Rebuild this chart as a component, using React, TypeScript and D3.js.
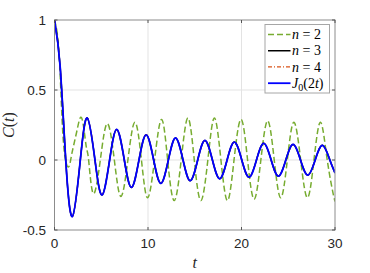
import React, { useEffect, useRef } from 'react';
import * as d3 from 'd3';

// axis ticks
const xTicks = [0, 10, 20, 30];
const yTicks = [-0.5, 0, 0.5, 1];
const yTickLabels = ['-0.5', '0', '0.5', '1'];

// J0(2t) (extrema and zero crossings)
const besselT = [0, 0.6, 1.202, 1.916, 2.76, 3.508, 4.327, 5.087, 5.896, 6.662, 7.466, 8.235, 9.036, 9.81,
  10.606, 11.38, 12.176, 12.95, 13.746, 14.52, 15.316, 16.09, 16.889, 17.67, 18.459, 19.24, 20.03, 20.81,
  21.6, 22.38, 23.17, 23.95, 24.74, 25.52, 26.31, 27.09, 27.88, 28.67, 29.45, 30];
const besselC = [1, 0.671, 0, -0.403, 0, 0.3, 0, -0.25, 0, 0.218, 0, -0.196, 0, 0.18,
  0, -0.167, 0, 0.157, 0, -0.148, 0, 0.14, 0, -0.134, 0, 0.128, 0, -0.123,
  0, 0.119, 0, -0.115, 0, 0.111, 0, -0.108, 0, 0.105, 0, -0.092];

// n = 2, green dashed
const n2T = [0, 0.5, 0.93, 1.48, 1.84, 2.37, 2.91, 3.37, 3.65, 4.15, 4.9, 5.65, 6.4, 7.1, 7.85, 8.6, 9.3, 9.95,
  10.7, 11.45, 12.1, 12.8, 13.55, 14.27, 14.95, 15.65, 16.4, 17.1, 17.8, 18.5, 19.2, 19.95, 20.65, 21.35,
  22.07, 22.8, 23.5, 24.2, 24.9, 25.6, 26.33, 27.05, 27.75, 28.45, 29.17, 29.9, 30];
const n2C = [1, 0.75, 0.15, -0.05, 0.04, 0.2, 0.3, 0.107, 0, -0.24, 0, 0.26, 0, -0.26, 0, 0.27, 0, -0.27,
  0, 0.29, 0, -0.29, 0, 0.3, 0, -0.29, 0, 0.3, 0, -0.29, 0, 0.29, 0, -0.28,
  0, 0.28, 0, -0.27, 0, 0.27, 0, -0.27, 0, 0.27, 0, -0.27, -0.268];

// n = 3 and n = 4 lie under the J0 curve
const n3T = besselT;
const n3C = besselC;
const n4T = besselT;
const n4C = besselC;

const legendNames = ['2', '3', '4', 'J'];

const App = () => {
  const svgRef = useRef(null);

  useEffect(() => {
    document.body.style.margin = '0';

    const W = 370;
    const H = 273;
    const margin = { top: 20, right: 35, bottom: 43, left: 54.5 };
    const width = W - margin.left - margin.right;
    const height = H - margin.top - margin.bottom;

    const svg = d3.select(svgRef.current);
    svg.selectAll('*').remove();
    svg.attr('width', W).attr('height', H);

    svg.append('rect').attr('width', W).attr('height', H).attr('fill', '#fff');

    const x = d3.scaleLinear().domain([0, 30]).range([0, width]);
    const y = d3.scaleLinear().domain([-0.5, 1]).range([height, 0]);

    const g = svg.append('g').attr('transform', `translate(${margin.left},${margin.top})`);

    // grid
    g.selectAll('.gx').data(xTicks.slice(1, -1)).enter().append('line')
      .attr('x1', d => x(d)).attr('x2', d => x(d))
      .attr('y1', 0).attr('y2', height)
      .attr('stroke', '#e3e3e3').attr('stroke-width', 1);
    g.selectAll('.gy').data(yTicks.slice(1, -1)).enter().append('line')
      .attr('x1', 0).attr('x2', width)
      .attr('y1', d => y(d)).attr('y2', d => y(d))
      .attr('stroke', '#e3e3e3').attr('stroke-width', 1);

    svg.append('defs').append('clipPath').attr('id', 'plot-clip')
      .append('rect').attr('width', width).attr('height', height);

    const lines = g.append('g').attr('clip-path', 'url(#plot-clip)');

    const series = [
      { t: n2T, c: n2C, color: '#77AC30', dash: '6,3', w: 1.5 },
      { t: n3T, c: n3C, color: '#000000', dash: null, w: 1.5 },
      { t: n4T, c: n4C, color: '#D95319', dash: '4,2,1,2', w: 1.2 },
      { t: besselT, c: besselC, color: '#0000FF', dash: null, w: 1.8 },
    ];

    series.forEach(s => {
      const pts = s.t.map((t, i) => [x(t), y(s.c[i])] as [number, number]);
      lines.append('path')
        .attr('d', d3.line().curve(d3.curveNatural)(pts))
        .attr('fill', 'none')
        .attr('stroke', s.color)
        .attr('stroke-width', s.w)
        .attr('stroke-dasharray', s.dash);
    });

    // box
    g.append('rect')
      .attr('width', width).attr('height', height)
      .attr('fill', 'none').attr('stroke', '#8c8c8c').attr('stroke-width', 1);

    // ticks (inward, all four sides)
    const tl = 3;
    xTicks.forEach(d => {
      g.append('line').attr('x1', x(d)).attr('x2', x(d)).attr('y1', height).attr('y2', height - tl)
        .attr('stroke', '#555');
      g.append('line').attr('x1', x(d)).attr('x2', x(d)).attr('y1', 0).attr('y2', tl)
        .attr('stroke', '#555');
    });
    yTicks.forEach(d => {
      g.append('line').attr('x1', 0).attr('x2', tl).attr('y1', y(d)).attr('y2', y(d))
        .attr('stroke', '#555');
      g.append('line').attr('x1', width).attr('x2', width - tl).attr('y1', y(d)).attr('y2', y(d))
        .attr('stroke', '#555');
    });

    // tick labels
    g.selectAll('.xl').data(xTicks).enter().append('text')
      .attr('x', d => x(d)).attr('y', height + 17.5)
      .attr('text-anchor', 'middle')
      .attr('font-family', 'Liberation Sans, Arial, sans-serif')
      .attr('font-size', 13.5).attr('fill', '#262626')
      .text(d => String(d));
    g.selectAll('.yl').data(yTicks).enter().append('text')
      .attr('x', -8.5).attr('y', d => y(d)).attr('dy', '0.35em')
      .attr('text-anchor', 'end')
      .attr('font-family', 'Liberation Sans, Arial, sans-serif')
      .attr('font-size', 13.5).attr('fill', '#262626')
      .text((d, i) => yTickLabels[i]);

    // axis labels
    svg.append('text')
      .attr('x', margin.left + width / 2).attr('y', 268)
      .attr('text-anchor', 'middle')
      .attr('font-family', 'Liberation Serif, serif').attr('font-style', 'italic')
      .attr('font-size', 16).attr('fill', '#262626')
      .text('t');
    const yl = svg.append('text')
      .attr('transform', `translate(14, ${margin.top + height / 2}) rotate(-90)`)
      .attr('text-anchor', 'middle')
      .attr('font-family', 'Liberation Serif, serif')
      .attr('font-size', 16).attr('fill', '#262626');
    yl.append('tspan').attr('font-style', 'italic').text('C');
    yl.append('tspan').text('(');
    yl.append('tspan').attr('font-style', 'italic').text('t');
    yl.append('tspan').text(')');

    // legend
    const lg = svg.append('g');
    lg.append('rect')
      .attr('x', 265).attr('y', 24.5).attr('width', 64.5).attr('height', 68.5)
      .attr('fill', '#fff').attr('stroke', '#a6a6a6').attr('stroke-width', 1);
    const rowY = d3.scaleLinear().domain([0, 3]).range([34.5, 83.2]);
    series.forEach((s, i) => {
      const yy = rowY(i);
      lg.append('line')
        .attr('x1', 268).attr('x2', 290.5).attr('y1', yy).attr('y2', yy)
        .attr('stroke', s.color).attr('stroke-width', s.w)
        .attr('stroke-dasharray', s.dash);
      const tx = lg.append('text')
        .attr('x', 292).attr('y', yy).attr('dy', '0.33em')
        .attr('font-family', 'Liberation Serif, serif')
        .attr('font-size', 14).attr('fill', '#000');
      if (legendNames[i] === 'J') {
        tx.append('tspan').attr('font-style', 'italic').text('J');
        tx.append('tspan').attr('font-size', 10).attr('dy', 3).text('0');
        tx.append('tspan').attr('dy', -3).text('(2');
        tx.append('tspan').attr('font-style', 'italic').text('t');
        tx.append('tspan').text(')');
      } else {
        tx.append('tspan').attr('font-style', 'italic').text('n');
        tx.append('tspan').text('\u2005=\u2005' + legendNames[i]);
      }
    });
  }, []);

  return (
    <div>
      <svg ref={svgRef}></svg>
    </div>
  );
};

export default App;
